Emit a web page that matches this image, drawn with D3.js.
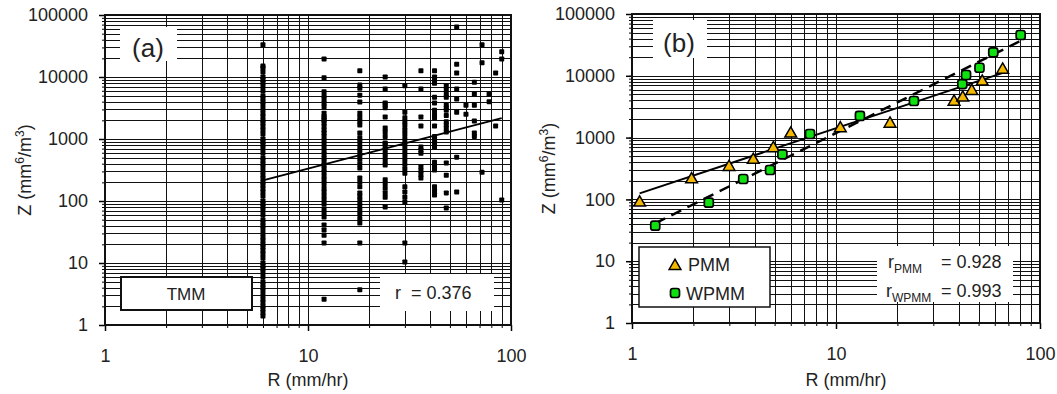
<!DOCTYPE html>
<html>
<head>
<meta charset="utf-8">
<script src="https://cdn.jsdelivr.net/npm/d3@7"></script>
<style>
  body { margin: 0; background: #fff; }
  svg { display: block; font-family: "Liberation Sans", Arial, sans-serif; }
</style>
</head>
<body>
<svg id="chart" width="1057" height="394"></svg>
<script>
// axis labels (same for both panels)
var xTicks = [1, 10, 100];
var yTicks = [1, 10, 100, 1000, 10000, 100000];

// panel (a) - TMM, rain rate comes in 6 mm/hr steps
var tmmRates = [6, 12, 18, 24, 30, 36, 42, 48, 54, 60, 66, 72, 78, 84, 90];
var tmmZ = [
  [1.4, 1.6, 1.8, 2, 2.3, 2.6, 3, 3.5, 4, 4.5, 5, 6, 7, 8, 9, 10, 12, 14, 16, 18, 20, 23, 26, 30, 35, 40, 45, 50, 60, 70, 80, 90,
   100, 120, 140, 160, 180, 200, 230, 260, 300, 350, 400, 450, 500, 600, 700, 800, 900, 1000, 1200, 1400, 1600, 1800, 2000,
   2300, 2600, 3000, 3500, 4000, 4500, 5000, 6000, 7000, 8000, 9000, 10000, 12000, 14000, 15000, 33000],
  [2.6, 21, 28, 34, 41, 55, 64, 75, 90, 105, 120, 140, 160, 190, 220, 250, 290, 330, 380, 430, 490, 560, 640, 730, 830, 950,
   1100, 1250, 1400, 1600, 1800, 2000, 2200, 2300, 2600, 3300, 3800, 4400, 5000, 5800, 9700, 19500],
  [3.7, 21, 44, 52, 62, 74, 88, 104, 120, 135, 170, 200, 235, 340, 400, 470, 550, 650, 760, 900, 1050, 1250, 1680, 1950,
   2250, 2600, 3950, 5100, 6600, 7400, 12600],
  [80, 115, 135, 160, 190, 220, 380, 440, 510, 590, 690, 800, 860, 1100, 1300, 1500, 2260, 3200, 3500, 3800, 6400, 10000],
  [10.4, 21, 96, 115, 140, 170, 280, 330, 390, 460, 540, 630, 740, 870, 1020, 1200, 1400, 1650, 1900, 2200, 2700, 7200],
  [235, 270, 310, 355, 590, 660, 740, 1620, 2260, 6400, 12600],
  [125, 145, 170, 315, 360, 420, 740, 860, 1000, 1100, 1620, 2200, 2500, 2900, 3800, 4700, 7900, 8900, 10000, 12600],
  [77, 135, 260, 410, 1300, 1500, 1700, 1900, 2400, 2900, 3200, 3500, 4700, 5300, 6200, 7200],
  [140, 510, 2700, 4400, 6400, 11600, 16000, 64000],
  [2500, 3500],
  [1100, 1250, 1950, 3500, 5300, 8200],
  [290, 17000, 33000],
  [4000, 5300],
  [1620, 11600],
  [104, 19500, 25500]
];
var tmmFitR = [6, 90];
var tmmFitZ = [215, 2170];
var tmmCorr = "0.376";

// panel (b) - PMM and WPMM
var pmmR = [1.09, 1.96, 2.99, 3.93, 4.93, 6.0, 10.5, 18.4, 37.9, 41.8, 46.3, 52.1, 65.6];
var pmmZ = [92, 219, 347, 451, 697, 1200, 1466, 1740, 3950, 4590, 5890, 8330, 13000];
var wpmmR = [1.30, 2.38, 3.51, 4.75, 5.46, 7.46, 13.1, 24.1, 41.6, 43.4, 50.5, 59.0, 80.4];
var wpmmZ = [37.5, 88.5, 214, 299, 537, 1143, 2240, 3910, 7360, 10300, 13500, 24000, 45700];
var pmmFitR = [1.09, 68.7];
var pmmFitZ = [125, 11700];
var wpmmFitR = [1.3, 82];
var wpmmFitZ = [41, 38000];
var corrNames = ["PMM", "WPMM"];
var corrValues = ["0.928", "0.993"];

var svg = d3.select("#chart");

// draws grid, frame and axes of one log-log panel
function drawPanel(p) {
    var x = d3.scaleLog().domain([1, 100]).range([p.left, p.right]);
    var y = d3.scaleLog().domain([1, 100000]).range([p.bottom, p.top]);
    var g = svg.append("g");

    // full log grid
    var grid = g.append("g").attr("shape-rendering", "crispEdges").attr("stroke", "#111").attr("stroke-width", 1);
    grid.selectAll(".vx").data(x.ticks()).enter().append("line")
        .attr("x1", d => Math.round(x(d)) + 0.5).attr("x2", d => Math.round(x(d)) + 0.5)
        .attr("y1", p.top).attr("y2", p.bottom);
    grid.selectAll(".hy").data(y.ticks()).enter().append("line")
        .attr("y1", d => Math.round(y(d)) + 0.5).attr("y2", d => Math.round(y(d)) + 0.5)
        .attr("x1", p.left).attr("x2", p.right);

    // white boxes that hide the grid behind the labels
    p.boxes.forEach(function(b) {
        g.append("rect").attr("x", b[0]).attr("y", b[1]).attr("width", b[2]).attr("height", b[3]).attr("fill", "#fff");
    });

    // minor ticks
    g.append("g").attr("transform", "translate(0," + p.bottom + ")")
        .call(d3.axisBottom(x).tickValues(x.ticks()).tickSize(3).tickFormat(""))
        .call(a => a.select(".domain").remove());
    g.append("g").attr("transform", "translate(" + p.left + ",0)")
        .call(d3.axisLeft(y).tickValues(y.ticks()).tickSize(3).tickFormat(""))
        .call(a => a.select(".domain").remove());

    // major ticks + labels
    var xa = g.append("g").attr("transform", "translate(0," + p.bottom + ")")
        .call(d3.axisBottom(x).tickValues(xTicks).tickSize(6).tickPadding(18).tickFormat(d3.format("d")));
    var ya = g.append("g").attr("transform", "translate(" + p.left + ",0)")
        .call(d3.axisLeft(y).tickValues(yTicks).tickSize(6).tickPadding(11).tickFormat(d3.format("d")));
    [xa, ya].forEach(function(a) {
        a.select(".domain").remove();
        a.selectAll("text").attr("font-family", "Liberation Sans, Arial, sans-serif").attr("font-size", 18).attr("fill", "#222");
        a.selectAll("line").attr("stroke-width", 1.5);
    });

    // frame
    g.append("rect").attr("x", p.left).attr("y", p.top)
        .attr("width", p.right - p.left).attr("height", p.bottom - p.top)
        .attr("fill", "none").attr("stroke", "#111").attr("stroke-width", 2);

    // panel letter
    g.append("text").attr("x", p.letterX).attr("y", p.letterY).attr("text-anchor", "middle")
        .attr("font-size", 26).attr("fill", "#222").text(p.letter);

    // axis titles
    g.append("text").attr("x", p.xTitleX).attr("y", 386).attr("text-anchor", "middle")
        .attr("font-size", 18).attr("fill", "#222").text("R (mm/hr)");
    var zt = g.append("text").attr("text-anchor", "middle").attr("font-size", 18).attr("fill", "#222")
        .attr("transform", "translate(" + p.zTitleX + "," + ((p.top + p.bottom) / 2) + ") rotate(-90)");
    zt.append("tspan").text("Z (mm");
    zt.append("tspan").attr("font-size", 12).attr("dy", -7).text("6");
    zt.append("tspan").attr("dy", 7).text("/m");
    zt.append("tspan").attr("font-size", 12).attr("dy", -7).text("3");
    zt.append("tspan").attr("dy", 7).text(")");

    return {g: g, x: x, y: y};
}

// ---------- panel (a) ----------
var pa = drawPanel({left: 105, right: 511, top: 15, bottom: 325, letter: "(a)", letterX: 148, letterY: 57,
    xTitleX: 308, zTitleX: 31, boxes: [[120, 27, 57, 34], [380, 274, 114, 37]]});

var tmmPoints = [];
tmmRates.forEach(function(r, i) {
    tmmZ[i].forEach(function(z) { tmmPoints.push({r: r, z: z}); });
});

pa.g.append("g").selectAll("rect").data(tmmPoints).enter().append("rect")
    .attr("x", d => pa.x(d.r) - 2.5).attr("y", d => pa.y(d.z) - 2.5)
    .attr("width", 5).attr("height", 5).attr("rx", 0.8).attr("fill", "#000");

var lineA = d3.line().x(d => pa.x(d[0])).y(d => pa.y(d[1]));
pa.g.append("path").datum(d3.zip(tmmFitR, tmmFitZ)).attr("d", lineA)
    .attr("fill", "none").attr("stroke", "#000").attr("stroke-width", 2);

// TMM legend box
pa.g.append("rect").attr("x", 121).attr("y", 277).attr("width", 131).attr("height", 33)
    .attr("fill", "#fff").attr("stroke", "#111").attr("stroke-width", 2);
pa.g.append("text").attr("x", 186).attr("y", 300).attr("text-anchor", "middle")
    .attr("font-size", 17).attr("fill", "#222").text("TMM");
pa.g.append("text").attr("x", 395).attr("y", 299).attr("font-size", 18).attr("fill", "#222")
    .attr("xml:space", "preserve").text("r  = " + tmmCorr);

// ---------- panel (b) ----------
var pb = drawPanel({left: 632, right: 1040, top: 14, bottom: 323, letter: "(b)", letterX: 679, letterY: 52,
    xTitleX: 846, zTitleX: 555, boxes: [[653, 20, 54, 38], [877, 246, 136, 56]]});

var lineB = d3.line().x(d => pb.x(d[0])).y(d => pb.y(d[1]));
pb.g.append("path").datum(d3.zip(pmmFitR, pmmFitZ)).attr("d", lineB)
    .attr("fill", "none").attr("stroke", "#000").attr("stroke-width", 2);
pb.g.append("path").datum(d3.zip(wpmmFitR, wpmmFitZ)).attr("d", lineB)
    .attr("fill", "none").attr("stroke", "#000").attr("stroke-width", 2.5).attr("stroke-dasharray", "11,7");

var tri = d3.symbol().type(d3.symbolTriangle).size(60);
var triColor = "#f5b800", greenColor = "#10e010";

pb.g.append("g").selectAll("path").data(d3.zip(pmmR, pmmZ)).enter().append("path")
    .attr("d", tri).attr("transform", d => "translate(" + pb.x(d[0]) + "," + (pb.y(d[1]) + 1) + ")")
    .attr("fill", triColor).attr("stroke", "#000").attr("stroke-width", 1.5);

pb.g.append("g").selectAll("rect").data(d3.zip(wpmmR, wpmmZ)).enter().append("rect")
    .attr("x", d => pb.x(d[0]) - 4.5).attr("y", d => pb.y(d[1]) - 4.5)
    .attr("width", 9).attr("height", 9).attr("rx", 2.5)
    .attr("fill", greenColor).attr("stroke", "#000").attr("stroke-width", 1.7);

// legend
pb.g.append("rect").attr("x", 639).attr("y", 247).attr("width", 131).attr("height", 60)
    .attr("fill", "#fff").attr("stroke", "#111").attr("stroke-width", 1.5);
pb.g.append("path").attr("d", tri).attr("transform", "translate(675,266)")
    .attr("fill", triColor).attr("stroke", "#000").attr("stroke-width", 1.5);
pb.g.append("rect").attr("x", 670.5).attr("y", 288.5).attr("width", 9).attr("height", 9).attr("rx", 2.5)
    .attr("fill", greenColor).attr("stroke", "#000").attr("stroke-width", 1.7);
pb.g.append("text").attr("x", 688).attr("y", 271).attr("font-size", 18).attr("fill", "#222").text("PMM");
pb.g.append("text").attr("x", 686).attr("y", 300).attr("font-size", 18).attr("fill", "#222").text("WPMM");

// correlation text
corrNames.forEach(function(n, i) {
    var t = pb.g.append("text").attr("y", 268 + i * 29).attr("font-size", 18).attr("fill", "#222");
    t.append("tspan").attr("x", 888 - i * 2).text("r");
    t.append("tspan").attr("font-size", 12).attr("dy", 5).text(n);
    t.append("tspan").attr("x", 941).attr("dy", -5).text("= " + corrValues[i]);
});
</script>
</body>
</html>
